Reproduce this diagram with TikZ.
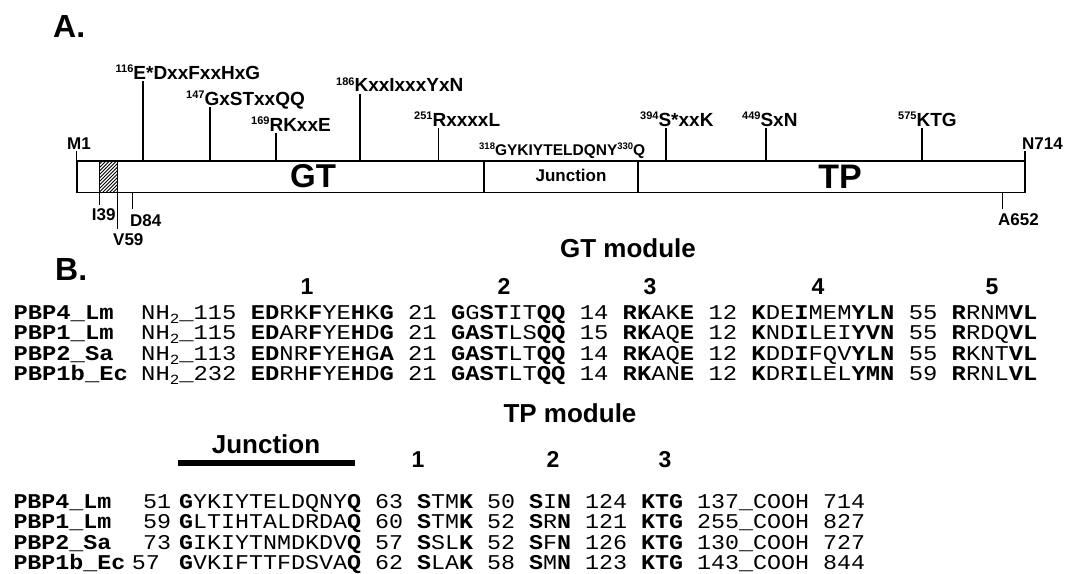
\documentclass[tikz,border=0pt]{standalone}
\usepackage{fontspec}
\setmainfont{Liberation Sans}
\newfontfamily\seqf[FakeStretch=1.135]{Liberation Mono}
\newfontfamily\seqg[FakeStretch=1.111]{Liberation Mono}
\newcommand\B[1]{\textbf{#1}}
\newcommand\sps[1]{\raisebox{6.5pt}{\fontsize{11}{11}\selectfont #1}}
\newcommand\spt[1]{\raisebox{5.5pt}{\fontsize{9.5}{9.5}\selectfont #1}}
\newcommand\sbs[1]{\raisebox{-4pt}{\fontsize{14}{14}\selectfont #1}}
\tikzset{
  lab/.style={font=\fontsize{19}{19}\selectfont\bfseries, anchor=base west, inner sep=0pt},
  endlab/.style={font=\fontsize{17}{17}\selectfont\bfseries, anchor=base west, inner sep=0pt},
  tick/.style={line width=1.3pt},
  bar/.style={line width=1.6pt},
  head/.style={font=\fontsize{32}{32}\selectfont\bfseries, anchor=base west, inner sep=0pt},
  modh/.style={font=\fontsize{26}{26}\selectfont\bfseries, anchor=base, inner sep=0pt},
  num/.style={font=\fontsize{23}{23}\selectfont\bfseries, anchor=base, inner sep=0pt},
  seq/.style={font=\seqf\fontsize{21}{21}\selectfont, anchor=base west, inner sep=0pt},
  nm/.style={font=\seqf\fontsize{21}{21}\selectfont\bfseries, anchor=base west, inner sep=0pt},
  seqt/.style={font=\seqg\fontsize{21}{21}\selectfont, anchor=base west, inner sep=0pt},
  nmt/.style={font=\seqg\fontsize{21}{21}\selectfont\bfseries, anchor=base west, inner sep=0pt},
}
\begin{document}
\begin{tikzpicture}[x=1pt,y=-1pt]
\useasboundingbox (0,0) rectangle (1065,573);
% ---------- A ----------
\node[head] (hA) at (53,37) {A.};
% bar
\draw[bar] (76.7,160.7) rectangle (1025,192.3);
\draw[bar] (484,160.7) -- (484,192.3);
\draw[bar] (637.7,160.7) -- (637.7,192.3);
\begin{scope}
\clip (99.3,160.7) rectangle (117.3,192.3);
\foreach \i in {-42,-38.5,...,20} \draw[line width=0.9pt] (99.3+\i,192.3) -- ++(40,-40);
\end{scope}
\draw[line width=1.2pt] (99.3,160.7) rectangle (117.3,192.3);
\node[font=\fontsize{33}{33}\selectfont\bfseries, inner sep=0pt] (gt) at (313,176.5) {GT};
\node[font=\fontsize{17}{17}\selectfont\bfseries, inner sep=0pt] (jn) at (571,175) {Junction};
\node[font=\fontsize{34}{34}\selectfont\bfseries, inner sep=0pt] (tp) at (840,177) {TP};
% tick coordinates on bar top
\coordinate (cM) at (76.7,160.7);
\coordinate (c116) at (143,160.7);
\coordinate (c147) at (210,160.7);
\coordinate (c169) at (276,160.7);
\coordinate (c186) at (360,160.7);
\coordinate (c251) at (438.6,160.7);
\coordinate (c394) at (666,160.7);
\coordinate (c449) at (766,160.7);
\coordinate (c575) at (922,160.7);
\coordinate (cN) at (1025,160.7);
% labels above
\node[endlab] (lM) at (67,149) {M1};
\node[lab] (l116) at (115.5,79) {\sps{116}E*DxxFxxHxG};
\node[lab] (l147) at (186,105) {\sps{147}GxSTxxQQ};
\node[lab] (l169) at (251,131) {\sps{169}RKxxE};
\node[lab] (l186) at (336,91.5) {\sps{186}KxxIxxxYxN};
\node[lab] (l251) at (414,126) {\sps{251}RxxxxL};
\node[font=\fontsize{15.5}{15.5}\selectfont\bfseries, anchor=base west, inner sep=0pt] (l318) at (479,155) {\spt{318}GYKIYTELDQNY\spt{330}Q};
\node[lab] (l394) at (640,126) {\sps{394}S*xxK};
\node[lab] (l449) at (742,126) {\sps{449}SxN};
\node[lab] (l575) at (898,126) {\sps{575}KTG};
\node[endlab] (lN) at (1022,149) {N714};
\foreach \c/\l in {cM/lM,c116/l116,c147/l147,c169/l169,c186/l186,c251/l251,c394/l394,c449/l449,c575/l575,cN/lN}
  \draw[tick] (\c) -- ([yshift=-2pt]\c |- \l.base);
% below
\coordinate (d39) at (99.3,192.3);
\coordinate (d59) at (117.3,192.3);
\coordinate (d84) at (132.7,192.3);
\coordinate (d652) at (1002.3,192.3);
\node[endlab] (l39) at (91.7,220) {I39};
\node[endlab] (l59) at (113,245) {V59};
\node[endlab] (l84) at (130,226.7) {D84};
\node[endlab] (l652) at (998,225) {A652};
\draw[tick] (d39) -- ([yshift=3pt]d39 |- l39.north);
\draw[tick] (d59) -- ([yshift=4pt]d59 |- l59.north);
\draw[tick] (d84) -- ([yshift=6pt]d84 |- l84.north);
\draw[line width=1pt] (d652) -- ([yshift=4pt]d652 |- l652.north);
% ---------- B ----------
\node[head] (hB) at (55,280) {B.};
\node[modh] (gtm) at (628,257) {GT module};
\node[num] (g1) at (307,294) {1};
\node[num] (g2) at (504,294) {2};
\node[num] (g3) at (650,294) {3};
\node[num] (g4) at (818,294) {4};
\node[num] (g5) at (992,294) {5};
\node[nm] (n1) at (13.3,319) {PBP4\_Lm};
\node[nm] (n2) at (13.3,339.5) {PBP1\_Lm};
\node[nm] (n3) at (13.3,360) {PBP2\_Sa};
\node[nm] (n4) at (13.3,380.5) {PBP1b\_Ec};
\node[seq] (s1) at (141,319) {NH\sbs{2}\_115 \B{ED}RK\B{F}YE\B{H}K\B{G} 21 \B{G}G\B{ST}IT\B{QQ} 14 \B{RK}AK\B{E} 12 \B{K}DE\B{I}MEM\B{YLN} 55 \B{R}RNM\B{VL}};
\node[seq] (s2) at (141,339.5) {NH\sbs{2}\_115 \B{ED}AR\B{F}YE\B{H}D\B{G} 21 \B{GAST}LS\B{QQ} 15 \B{RK}AQ\B{E} 12 \B{K}ND\B{I}LEI\B{YVN} 55 \B{R}RDQ\B{VL}};
\node[seq] (s3) at (141,360) {NH\sbs{2}\_113 \B{ED}NR\B{F}YE\B{H}G\B{A} 21 \B{GAST}LT\B{QQ} 14 \B{RK}AQ\B{E} 12 \B{K}DD\B{I}FQV\B{YLN} 55 \B{R}KNT\B{VL}};
\node[seq] (s4) at (141,380.5) {NH\sbs{2}\_232 \B{ED}RH\B{F}YE\B{H}D\B{G} 21 \B{GAST}LT\B{QQ} 14 \B{RK}AN\B{E} 12 \B{K}DR\B{I}LEL\B{YMN} 59 \B{R}RNL\B{VL}};
% TP
\node[modh] (jh) at (266,453) {Junction};
\coordinate (jb1) at (178,463);
\coordinate (jb2) at (355,463);
\draw[line width=5.3pt] (jb1) -- (jb2);
\node[modh] (tpm) at (570,422) {TP module};
\node[num] (t1) at (418,467) {1};
\node[num] (t2) at (553,467) {2};
\node[num] (t3) at (665,467) {3};
\node[nmt] (m1) at (13.3,508) {PBP4\_Lm};
\node[nmt] (m2) at (13.3,528.5) {PBP1\_Lm};
\node[nmt] (m3) at (13.3,549) {PBP2\_Sa};
\node[nmt] (m4) at (13.3,569.5) {PBP1b\_Ec};
\node[seqt] (k1) at (143,508) {51};
\node[seqt] (k2) at (143,528.5) {59};
\node[seqt] (k3) at (143,549) {73};
\node[seqt] (k4) at (131.7,569.5) {57};
\node[seqt] (q1) at (179,508) {\B{G}YKIYTELDQNY\B{Q} 63 \B{S}TM\B{K} 50 \B{S}I\B{N} 124 \B{KTG} 137\_COOH 714};
\node[seqt] (q2) at (179,528.5) {\B{G}LTIHTALDRDA\B{Q} 60 \B{S}TM\B{K} 52 \B{S}R\B{N} 121 \B{KTG} 255\_COOH 827};
\node[seqt] (q3) at (179,549) {\B{G}IKIYTNMDKDV\B{Q} 57 \B{S}SL\B{K} 52 \B{S}F\B{N} 126 \B{KTG} 130\_COOH 727};
\node[seqt] (q4) at (179,569.5) {\B{G}VKIFTTFDSVA\B{Q} 62 \B{S}LA\B{K} 58 \B{S}M\B{N} 123 \B{KTG} 143\_COOH 844};
\end{tikzpicture}
\end{document}
